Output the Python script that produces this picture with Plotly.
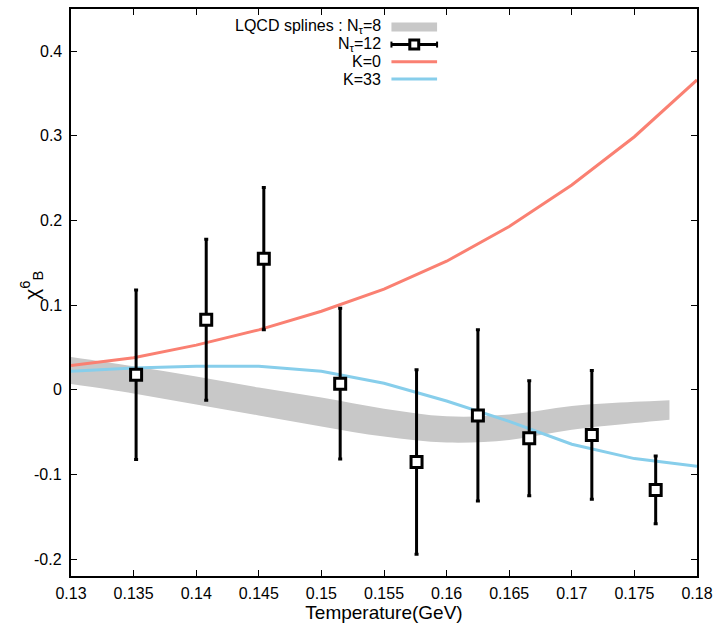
import plotly.graph_objects as go

# ---- data ----
t_pts = [0.1352, 0.1408, 0.1454, 0.1515, 0.1576, 0.1625, 0.1666, 0.1716, 0.1767]
chi_pts = [0.018, 0.083, 0.155, 0.0075, -0.085, -0.030, -0.057, -0.053, -0.118]
chi_err = [0.100, 0.095, 0.084, 0.089, 0.109, 0.101, 0.068, 0.076, 0.040]

t_band = [0.13, 0.135, 0.14, 0.145, 0.15, 0.155, 0.16, 0.165, 0.17, 0.175, 0.1778]
band_hi = [0.039, 0.028, 0.016, 0.003, -0.009, -0.022, -0.031, -0.029, -0.019, -0.014, -0.012]
band_lo = [0.007, -0.004, -0.017, -0.030, -0.043, -0.055, -0.062, -0.059, -0.047, -0.039, -0.035]

t_line = [0.13, 0.135, 0.14, 0.145, 0.15, 0.155, 0.16, 0.165, 0.17, 0.175, 0.18]
k0 = [0.029, 0.038, 0.053, 0.071, 0.093, 0.119, 0.152, 0.193, 0.242, 0.299, 0.366]
k33 = [0.022, 0.026, 0.028, 0.028, 0.022, 0.008, -0.013, -0.037, -0.064, -0.081, -0.090]

x_ticks = [0.13, 0.135, 0.14, 0.145, 0.15, 0.155, 0.16, 0.165, 0.17, 0.175, 0.18]
x_ticklabels = ["0.13", "0.135", "0.14", "0.145", "0.15", "0.155", "0.16", "0.165", "0.17", "0.175", "0.18"]
y_ticks = [-0.2, -0.1, 0, 0.1, 0.2, 0.3, 0.4]
y_ticklabels = ["-0.2", "-0.1", "0", "0.1", "0.2", "0.3", "0.4"]

legend_labels = ["LQCD splines : N<sub>τ</sub>=8", "N<sub>τ</sub>=12", "K=0", "K=33"]

GRAY = "#c8c8c8"
SALMON = "#fa8072"
SKY = "#87ceeb"
FONT = "Liberation Sans, Arial, sans-serif"

fig = go.Figure()

# band
fig.add_trace(go.Scatter(x=t_band, y=band_lo, mode="lines", line=dict(width=0, color=GRAY, shape="spline"),
                         showlegend=False, hoverinfo="skip"))
fig.add_trace(go.Scatter(x=t_band, y=band_hi, mode="lines", line=dict(width=0, color=GRAY, shape="spline"),
                         fill="tonexty", fillcolor=GRAY, showlegend=False, hoverinfo="skip"))

# model lines
fig.add_trace(go.Scatter(x=t_line, y=k0, mode="lines", line=dict(color=SALMON, width=3), showlegend=False))
fig.add_trace(go.Scatter(x=t_line, y=k33, mode="lines", line=dict(color=SKY, width=3), showlegend=False))

# data points
fig.add_trace(go.Scatter(
    x=t_pts, y=chi_pts, mode="markers",
    marker=dict(symbol="square", size=11, color="white", line=dict(color="black", width=3)),
    error_y=dict(type="data", array=chi_err, visible=True, color="black", thickness=3, width=2),
    showlegend=False))

# ---- manual gnuplot-style key ----
L, R, T, B = 71, 702, 7, 576
def px(x):
    return (x - L) / (R - L)
def py(y):
    return (B - y) / (B - T)

rows_y = [25, 42.7, 60, 77.3]
text_right = 385
s0, s1 = 394, 440
for lab, yy in zip(legend_labels, rows_y):
    fig.add_annotation(x=px(text_right), y=py(yy), xref="paper", yref="paper", text=lab,
                       showarrow=False, xanchor="right", yanchor="middle",
                       font=dict(family=FONT, size=16, color="black"))

# Nt=8 sample (gray thick bar)
fig.add_shape(type="rect", xref="paper", yref="paper", x0=px(s0), x1=px(s1),
              y0=py(rows_y[0] + 4.5), y1=py(rows_y[0] - 4.5), fillcolor=GRAY, line=dict(width=0))
# Nt=12 sample
fig.add_shape(type="line", xref="paper", yref="paper", x0=px(s0), x1=px(s1),
              y0=py(rows_y[1]), y1=py(rows_y[1]), line=dict(color="black", width=3))
for xe in (s0, s1):
    fig.add_shape(type="line", xref="paper", yref="paper", x0=px(xe), x1=px(xe),
                  y0=py(rows_y[1] - 3), y1=py(rows_y[1] + 3), line=dict(color="black", width=2))
xm = (s0 + s1) / 2
fig.add_shape(type="rect", xref="paper", yref="paper", x0=px(xm - 4.5), x1=px(xm + 4.5),
              y0=py(rows_y[1] + 4.5), y1=py(rows_y[1] - 4.5), fillcolor="white",
              line=dict(color="black", width=3))
# K=0 / K=33 samples
for col, yy in ((SALMON, rows_y[2]), (SKY, rows_y[3])):
    fig.add_shape(type="line", xref="paper", yref="paper", x0=px(s0), x1=px(s1),
                  y0=py(yy), y1=py(yy), line=dict(color=col, width=3))

# y tick labels placed close to the axis (gnuplot style)
for v, lab in zip(y_ticks, y_ticklabels):
    fig.add_annotation(x=0, y=v, xref="paper", yref="y", text=lab, showarrow=False,
                       xanchor="right", yanchor="middle", xshift=-7,
                       font=dict(family=FONT, size=16, color="black"))
# y axis title
fig.add_annotation(x=px(31), y=py(301), xref="paper", yref="paper",
                   text="χ<sup>6</sup><sub>B</sub>", showarrow=False, textangle=-90,
                   xanchor="center", yanchor="bottom",
                   font=dict(family=FONT, size=21, color="black"))

axis_common = dict(showline=True, linecolor="black", linewidth=1.5, mirror="ticks",
                   ticks="inside", ticklen=6, tickwidth=1, tickcolor="black",
                   showgrid=False, zeroline=False,
                   tickfont=dict(family=FONT, size=16, color="black"))

fig.update_xaxes(range=[0.13, 0.18], tickvals=x_ticks, ticktext=x_ticklabels,
                 title=dict(text="Temperature(GeV)", font=dict(family=FONT, size=19, color="black"),
                            standoff=1),
                 ticklabelstandoff=2, **axis_common)
fig.update_yaxes(range=[-0.2196, 0.4498], tickvals=y_ticks, showticklabels=False, **axis_common)

fig.update_layout(width=720, height=623, plot_bgcolor="white", paper_bgcolor="white",
                  margin=dict(l=71, r=18, t=7, b=47), showlegend=False,
                  font=dict(family=FONT, color="black"))

fig.write_html("out.html")
